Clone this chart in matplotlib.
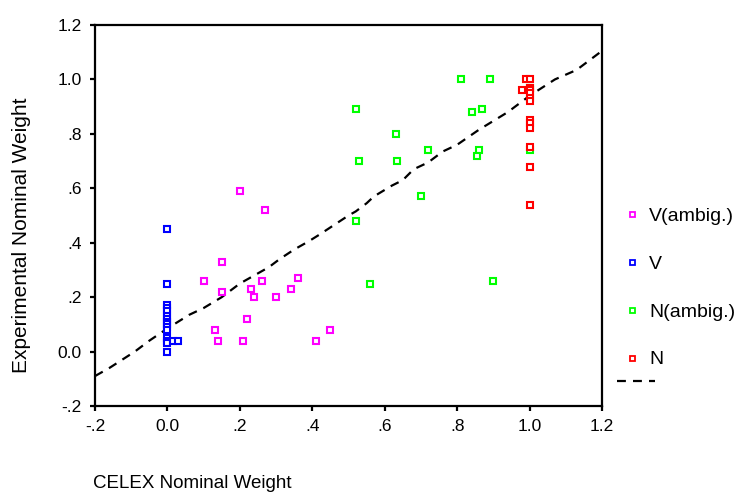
import matplotlib
matplotlib.use("Agg")
import matplotlib.pyplot as plt
from matplotlib.lines import Line2D

plt.rcParams["font.family"] = ["Liberation Sans", "DejaVu Sans"]

# V(ambig.)
v_amb_x = [0.20, 0.27, 0.15, 0.10, 0.26, 0.36, 0.15, 0.23, 0.24, 0.30, 0.34, 0.22, 0.13, 0.45, 0.14, 0.21, 0.41]
v_amb_y = [0.59, 0.52, 0.33, 0.26, 0.26, 0.27, 0.22, 0.23, 0.20, 0.20, 0.23, 0.12, 0.08, 0.08, 0.04, 0.04, 0.04]

# V
v_x = [0.0] * 15 + [0.015, 0.03]
v_y = [0.45, 0.25, 0.17, 0.16, 0.15, 0.13, 0.12, 0.11, 0.10, 0.09, 0.08, 0.05, 0.04, 0.03, 0.0, 0.04, 0.04]

# N(ambig.)
n_amb_x = [0.81, 0.89, 0.52, 0.84, 0.87, 0.63, 0.72, 0.86, 0.855, 1.0, 0.53, 0.635, 0.70, 0.52, 0.56, 0.90, 1.0]
n_amb_y = [1.0, 1.0, 0.89, 0.88, 0.89, 0.80, 0.74, 0.74, 0.72, 0.74, 0.70, 0.70, 0.57, 0.48, 0.25, 0.26, 0.97]

# N
n_x = [0.99, 1.0, 0.98, 1.0, 1.0, 1.0, 1.0, 1.0, 1.0, 1.0, 1.0, 1.0, 1.0, 1.0]
n_y = [1.0, 1.0, 0.96, 0.97, 0.96, 0.95, 0.93, 0.92, 0.85, 0.84, 0.82, 0.75, 0.68, 0.54]

# fit line (dashed)
fit_x = [-0.2, -0.16, -0.09, -0.05, 0.0, 0.06, 0.10, 0.15, 0.20, 0.24, 0.28, 0.31, 0.35, 0.39, 0.42, 0.46,
         0.50, 0.52, 0.55, 0.57, 0.62, 0.65, 0.68, 0.72, 0.76, 0.80, 0.86, 0.94, 1.0, 1.07, 1.13, 1.2]
fit_y = [-0.09, -0.06, 0.0, 0.04, 0.085, 0.135, 0.16, 0.20, 0.25, 0.28, 0.31, 0.34, 0.375, 0.405, 0.43, 0.465,
         0.50, 0.515, 0.545, 0.57, 0.61, 0.63, 0.67, 0.695, 0.735, 0.76, 0.815, 0.88, 0.94, 1.0, 1.035, 1.105]

ticks = [-0.2, 0.0, 0.2, 0.4, 0.6, 0.8, 1.0, 1.2]
tick_labels = ["-.2", "0.0", ".2", ".4", ".6", ".8", "1.0", "1.2"]

groups = [
    ("V(ambig.)", v_amb_x, v_amb_y, "#ff00ff"),
    ("V", v_x, v_y, "#0000ff"),
    ("N(ambig.)", n_amb_x, n_amb_y, "#00ff00"),
    ("N", n_x, n_y, "#ff0000"),
]

DASH = (0, (4.0, 3.2))

fig = plt.figure(figsize=(7.4, 4.96), dpi=100)
ax = fig.add_axes([95 / 740, 1 - 406 / 496, 507 / 740, 381 / 496])

ax.plot(fit_x, fit_y, color="black", lw=1.6, ls=DASH, zorder=1)

handles = []
for label, xs, ys, col in groups:
    ax.plot(xs, ys, ls="none", marker="s", ms=4.4, mew=1.5, mec=col, mfc="white", zorder=2)
    handles.append(Line2D([], [], ls="none", marker="s", ms=3.6, mew=1.3, mec=col, mfc="white", label=label))

ax.set_xlim(-0.2, 1.2)
ax.set_ylim(-0.2, 1.2)
ax.set_xticks(ticks)
ax.set_xticklabels(tick_labels)
ax.set_yticks(ticks)
ax.set_yticklabels(tick_labels)
ax.tick_params(direction="out", length=3.5, width=1.6, labelsize=12.5, pad=6)
for sp in ax.spines.values():
    sp.set_linewidth(1.6)

leg1 = ax.legend(handles=handles, loc="center left", bbox_to_anchor=(1.03, 0.31), frameon=False,
                 fontsize=14, handlelength=1.5, handletextpad=0.15, labelspacing=1.55,
                 borderpad=0, borderaxespad=0)
ax.add_artist(leg1)
line_handle = Line2D([], [], color="black", lw=1.6, ls=DASH)
ax.legend(handles=[line_handle], labels=[""], loc="center left", bbox_to_anchor=(1.03, 0.06),
          frameon=False, fontsize=14, handlelength=1.95, handletextpad=0, borderpad=0, borderaxespad=0)

fig.text(22 / 740, 1 - 235 / 496, "Experimental Nominal Weight", rotation=90, ha="center", va="center", fontsize=15)
fig.text(93 / 740, 1 - 484 / 496, "CELEX Nominal Weight", ha="left", va="center", fontsize=13.5)

fig.savefig("out.png", dpi=100)
